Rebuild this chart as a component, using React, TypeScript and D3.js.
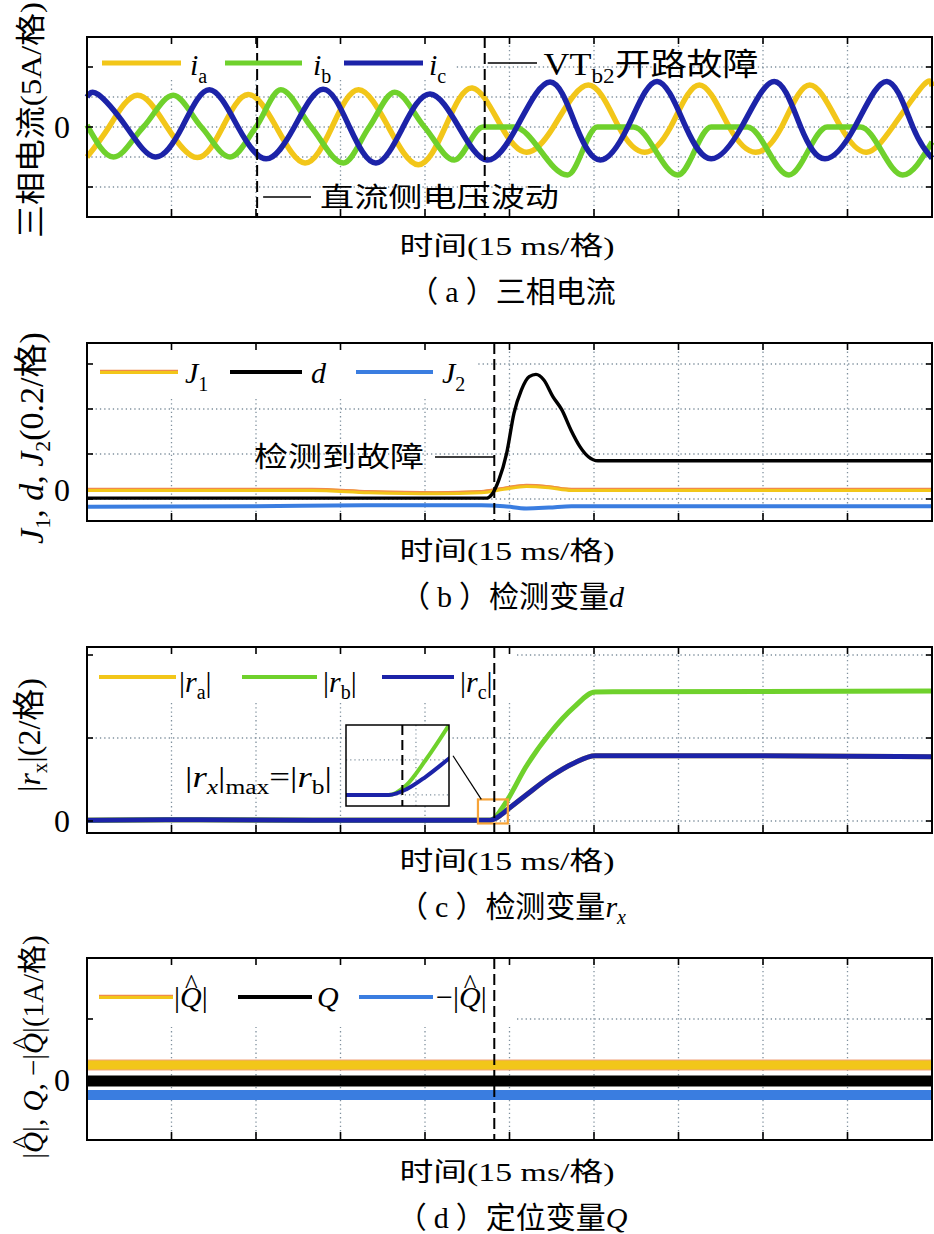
import React from "react";
import * as d3 from "d3";

type P = [number, number];

// ---------- shared time axis (ms, 15 ms per division) ----------
const timeTicks = [0, 15, 30, 45, 60, 75, 90, 105, 120, 135, 150];

// ---------- (a) three-phase currents, A ----------
const iaData: P[] = [
  [0, -5.0], [3.9, 0], [8.9, 5.3], [14.2, 0], [19.6, -5.1], [24.1, 0], [28.6, 5.4], [33.6, 0],
  [38.7, -6.0], [43.5, 0], [48.2, 6.2], [53.5, 0], [58.8, -6.3], [63.6, 0], [68.4, 6.5], [73.6, 0],
  [78.0, -4.2], [82.8, 0], [89.0, 7.0], [94.4, 0], [99.0, -4.2], [103.6, 0], [108.7, 7.0], [114.0, 0],
  [118.7, -4.2], [123.3, 0], [128.3, 7.0], [133.8, 0], [138.4, -4.2], [143.0, 0], [148.5, 7.0], [150, 6.8],
];
const ibData: P[] = [
  [0, 0.3], [4.7, -5.0], [10.0, 0], [15.3, 5.3], [20.3, 0], [25.4, -5.0], [30.0, 0], [34.4, 6.2],
  [39.8, 0], [45.5, -6.0], [50.1, 0], [54.6, 5.8], [59.9, 0], [65.2, -5.5], [70.3, 0], [75.8, 0],
  [85.3, -8.0], [90.6, 0], [97.0, 0], [104.9, -8.0], [110.8, 0], [117.2, 0], [124.6, -8.0],
  [131.4, 0], [137.3, 0], [144.8, -8.0], [150, -2.5],
];
const icData: P[] = [
  [0, 5.0], [2.0, 5.4], [7.0, 0], [12.1, -5.0], [16.9, 0], [21.7, 6.2], [26.8, 0], [31.8, -5.3],
  [36.8, 0], [41.9, 6.3], [46.6, 0], [51.3, -6.0], [56.1, 0], [60.9, 5.5], [66.0, 0], [71.0, -5.5],
  [76.3, 0], [82.2, 7.5], [86.9, 0], [91.1, -5.5], [96.0, 0], [101.2, 7.6], [106.3, 0], [110.8, -5.3],
  [116.2, 0], [122.0, 7.6], [126.7, 0], [131.0, -5.3], [136.3, 0], [142.0, 7.6], [146.6, 0], [150, -5.2],
];
const aGrid = [-10, -5, 0, 5, 10];
const aTicks = [-10, 0, 10];
const aEvents = [30.2, 70.6]; // DC-voltage fluctuation, VT_b2 open fault

// ---------- (b) detection variable d ----------
const j1Data: P[] = [
  [0, 0], [40, 0], [50, -0.01], [62, -0.015], [70, -0.01], [74, 0.005], [78, 0.018], [82, 0.012], [86, 0], [150, 0],
];
const dData: P[] = [
  [0, -0.036], [71.0, -0.036], [71.8, -0.022], [73.1, 0.044], [74.5, 0.164], [75.8, 0.342], [77.1, 0.444],
  [78.5, 0.504], [79.7, 0.514], [81.1, 0.489], [82.7, 0.415], [84.3, 0.356], [85.9, 0.267], [87.5, 0.193],
  [89.0, 0.148], [90.7, 0.13], [150, 0.13],
];
const j2Data: P[] = [
  [0, -0.074], [30, -0.072], [50, -0.068], [70, -0.068], [74, -0.072], [78, -0.082], [82, -0.078], [86, -0.072], [150, -0.072],
];
const bGrid = [-0.04, 0.16, 0.36, 0.56];
const detectT = 72.3;

// ---------- (c) detection variable r_x ----------
const rbData: P[] = [
  [0, 0.02], [20, 0.03], [40, 0.02], [60, 0.02], [71.6, 0.02], [72.5, 0.09], [73.5, 0.27], [74.7, 0.52],
  [77.9, 1.3], [82.2, 2.12], [86.5, 2.75], [90.2, 3.11], [120, 3.12], [150, 3.13],
];
const rcData: P[] = [
  [0, 0.02], [20, 0.03], [40, 0.02], [60, 0.02], [71.6, 0.02], [72.5, 0.06], [73.5, 0.15], [74.7, 0.28],
  [77.9, 0.62], [82.2, 1.06], [86.5, 1.4], [90.2, 1.57], [120, 1.57], [150, 1.55],
];
const raData: P[] = rcData;
const cGrid = [0, 2, 4];
const insetT = [69.4, 74.7];
const insetV = [-0.059, 0.52];
const insetGridT = [73];
const insetGridV = [0.02, 0.27];

// ---------- (d) location variable Q ----------
const qHatData: P[] = [[0, 0.246], [150, 0.246]];
const qData: P[] = [[0, -0.016], [150, -0.016]];
const negQHatData: P[] = [[0, -0.246], [150, -0.246]];
const dGridV = [0, 1];

// ---------- layout ----------
const X0 = 87, X1 = 932;
const xS = d3.scaleLinear().domain([0, 150]).range([X0, X1]);
const PA = { top: 37, bottom: 217, dom: [-15, 15] };
const PB = { top: 343, bottom: 521, dom: [-0.1378, 0.6533] };
const PC = { top: 647, bottom: 833, dom: [-0.289, 4.193] };
const PD = { top: 958, bottom: 1140, dom: [-0.984, 2.0] };
const yOf = (p: { top: number; bottom: number; dom: number[] }) =>
  d3.scaleLinear().domain(p.dom).range([p.bottom, p.top]);
const yA = yOf(PA), yB = yOf(PB), yC = yOf(PC), yD = yOf(PD);

const SERIF = "'Liberation Serif','Times New Roman',Times,'Noto Sans CJK SC',serif";
const GRID_C = "#7f909d";
const YEL = "#f2c619";
const GRN = "#6fd12c";
const NAVY = "#1c23a8";
const BLUE = "#3a7de0";
const ORNG = "#f08a4a";

const mk = (ys: d3.ScaleLinear<number, number>, curve: d3.CurveFactory) =>
  d3.line<P>().x((d) => xS(d[0])).y((d) => ys(d[1])).curve(curve);

function Grid({ p, ys, grid, legend }: any) {
  return (
    <g>
      {timeTicks.slice(1, -1).map((t) => (
        <line key={"v" + t} x1={xS(t)} x2={xS(t)} y1={p.top} y2={p.bottom} stroke={GRID_C} strokeWidth={1.3} strokeDasharray="1.3 3" />
      ))}
      {grid.map((v: number) => (
        <line key={"h" + v} x1={X0} x2={X1} y1={ys(v)} y2={ys(v)} stroke={GRID_C} strokeWidth={1.3} strokeDasharray="1.3 3" />
      ))}
      {legend && <rect x={X0 + 1} y={p.top + 1} width={legend[0] - X0 - 1} height={legend[1] - p.top - 1} fill="#fff" />}
    </g>
  );
}

function Border({ p, ys, ticks }: any) {
  return (
    <g stroke="#000" strokeWidth={1.6}>
      {timeTicks.slice(1, -1).map((t) => (
        <g key={t}>
          <line x1={xS(t)} x2={xS(t)} y1={p.bottom} y2={p.bottom - 8} />
          <line x1={xS(t)} x2={xS(t)} y1={p.top} y2={p.top + 7} />
        </g>
      ))}
      {ticks.map((v: number) => (
        <g key={v}>
          <line x1={X0} x2={X0 + 6} y1={ys(v)} y2={ys(v)} />
          <line x1={X1 - 6} x2={X1} y1={ys(v)} y2={ys(v)} />
        </g>
      ))}
      <rect x={X0} y={p.top} width={X1 - X0} height={p.bottom - p.top} fill="none" strokeWidth={2} />
    </g>
  );
}

function Zero({ ys }: any) {
  return (
    <text x={70} y={ys(0)} textAnchor="end" dominantBaseline="central" fontSize={32} fontFamily={SERIF}>0</text>
  );
}

function Dashed({ t, p }: any) {
  return <line x1={xS(t)} x2={xS(t)} y1={p.top} y2={p.bottom} stroke="#000" strokeWidth={2} strokeDasharray="11 5" />;
}

function LegLine({ x1, x2, y, c, w = 4.5, fringe }: any) {
  return (
    <g>
      <line x1={x1} x2={x2} y1={y} y2={y} stroke={c} strokeWidth={w} />
      {fringe && <line x1={x1} x2={x2} y1={y - 1.6} y2={y - 1.6} stroke={fringe} strokeWidth={1.1} />}
    </g>
  );
}

function XLabels({ base, tag, title }: any) {
  return (
    <g fontFamily={SERIF}>
      <text x={399.5} y={base} fontSize={26} textLength={215} lengthAdjust="spacingAndGlyphs">时间(15 ms/格)</text>
      <text x={512} y={base + 47} fontSize={30} textAnchor="middle">
        （<tspan dx={7}>{tag}</tspan><tspan dx={7}>）</tspan>{title}
      </text>
    </g>
  );
}

// italic Q with a circumflex accent, followed by `after`
function qHat(fs: number, after: string) {
  const hs = 0.9 * fs;
  return [
    <tspan key="q" fontStyle="italic">Q</tspan>,
    <tspan key="h" fontStyle="normal" fontSize={hs} dx={-0.56 * fs} dy={-0.46 * fs}>^</tspan>,
    <tspan key="a" fontStyle="normal" fontSize={fs} dx={0.14 * fs} dy={0.46 * fs}>{after}</tspan>,
  ];
}

export default function App() {
  const lA = (d: P[]) => mk(yA, d3.curveNatural)(d) as string;
  const lAm = (d: P[]) => mk(yA, d3.curveMonotoneX)(d) as string;
  const lB = (d: P[]) => mk(yB, d3.curveMonotoneX)(d) as string;
  const lC = (d: P[]) => mk(yC, d3.curveMonotoneX)(d) as string;
  const lD = (d: P[]) => mk(yD, d3.curveLinear)(d) as string;

  const xi = d3.scaleLinear().domain(insetT).range([346, 449]);
  const yi = d3.scaleLinear().domain(insetV).range([806, 725]);
  const lI = d3.line<P>().x((d) => xi(d[0])).y((d) => yi(d[1])).curve(d3.curveMonotoneX);

  return (
    <svg width={934} height={1234} style={{ position: "absolute", left: 0, top: 0, background: "#fff" }} fontFamily={SERIF}>
      <defs>
        <clipPath id="insetClip"><rect x={346} y={725} width={103} height={81} /></clipPath>
      </defs>

      {/* ================= (a) ================= */}
      <Grid p={PA} ys={yA} grid={aGrid} legend={[456, 80]} />
      <path d={lA(iaData)} fill="none" stroke={YEL} strokeWidth={5.5} />
      <path d={lAm(ibData)} fill="none" stroke={GRN} strokeWidth={5.5} />
      <path d={lA(icData)} fill="none" stroke={NAVY} strokeWidth={5.5} />
      {aEvents.map((t) => <Dashed key={t} t={t} p={PA} />)}
      <Border p={PA} ys={yA} ticks={aTicks} />
      <Zero ys={yA} />
      <LegLine x1={102} x2={181} y={63} c={YEL} w={5} />
      <LegLine x1={225} x2={302} y={63} c={GRN} w={5} />
      <LegLine x1={344} x2={423} y={63} c={NAVY} w={5} />
      <text x={190} y={75} fontSize={30} fontStyle="italic">i<tspan fontSize={20} fontStyle="normal" dy={8}>a</tspan></text>
      <text x={313} y={75} fontSize={30} fontStyle="italic">i<tspan fontSize={20} fontStyle="normal" dy={8}>b</tspan></text>
      <text x={429} y={75} fontSize={30} fontStyle="italic">i<tspan fontSize={20} fontStyle="normal" dy={8}>c</tspan></text>
      <line x1={xS(aEvents[1]) + 3} x2={537} y1={63} y2={63} stroke="#000" strokeWidth={1.5} />
      <text x={543.5} y={75} fontSize={31} textLength={215} lengthAdjust="spacingAndGlyphs">VT<tspan fontSize={20} dy={8}>b2</tspan><tspan dy={-8}>开路故障</tspan></text>
      <line x1={xS(aEvents[0]) + 6} x2={311} y1={197} y2={197} stroke="#000" strokeWidth={1.5} />
      <text x={320} y={206.5} fontSize={27} textLength={239} lengthAdjust="spacingAndGlyphs">直流侧电压波动</text>
      <text transform="translate(41,120) rotate(-90)" textAnchor="middle" fontSize={30} textLength={236} lengthAdjust="spacingAndGlyphs">三相电流(5A/格)</text>
      <XLabels base={255} tag="a" title="三相电流" />

      {/* ================= (b) ================= */}
      <Grid p={PB} ys={yB} grid={bGrid} legend={[478, 398]} />
      <path d={lB(j2Data)} fill="none" stroke={BLUE} strokeWidth={4} />
      <path d={lB(j1Data)} fill="none" stroke={YEL} strokeWidth={4} />
      <path d={lB(j1Data)} fill="none" stroke={ORNG} strokeWidth={1.1} transform="translate(0,-1.6)" />
      <path d={lB(dData)} fill="none" stroke="#000" strokeWidth={3.4} />
      <Dashed t={detectT} p={PB} />
      <Border p={PB} ys={yB} ticks={bGrid} />
      <Zero ys={yB} />
      <LegLine x1={100} x2={178} y={372} c={YEL} w={4} fringe={ORNG} />
      <LegLine x1={230} x2={302} y={372} c="#000" w={4} />
      <LegLine x1={356} x2={433} y={372} c={BLUE} w={4} />
      <text x={185} y={383} fontSize={30} fontStyle="italic">J<tspan fontSize={20} fontStyle="normal" dy={8}>1</tspan></text>
      <text x={311} y={383} fontSize={30} fontStyle="italic">d</text>
      <text x={442} y={383} fontSize={30} fontStyle="italic">J<tspan fontSize={20} fontStyle="normal" dy={8}>2</tspan></text>
      <text x={254} y={467} fontSize={28} textLength={170} lengthAdjust="spacingAndGlyphs">检测到故障</text>
      <line x1={435} x2={xS(detectT)} y1={457} y2={457} stroke="#000" strokeWidth={1.5} />
      <text transform="translate(43,438) rotate(-90)" textAnchor="middle" fontSize={34}>
        <tspan fontStyle="italic">J</tspan><tspan fontSize={22} dy={7}>1</tspan><tspan dy={-7}>, </tspan>
        <tspan fontStyle="italic">d</tspan><tspan>, </tspan>
        <tspan fontStyle="italic">J</tspan><tspan fontSize={22} dy={7}>2</tspan><tspan dy={-7}>(0.2/格)</tspan>
      </text>
      <XLabels base={560} tag="b" title={<>检测变量<tspan fontStyle="italic">d</tspan></>} />

      {/* ================= (c) ================= */}
      <Grid p={PC} ys={yC} grid={cGrid} legend={[514, 700]} />
      <path d={lC(raData)} fill="none" stroke={YEL} strokeWidth={5} />
      <path d={lC(rbData)} fill="none" stroke={GRN} strokeWidth={5} />
      <path d={lC(rcData)} fill="none" stroke={NAVY} strokeWidth={5} />
      <rect x={xS(insetT[0])} y={yC(insetV[1])} width={xS(insetT[1]) - xS(insetT[0])}
        height={yC(insetV[0]) - yC(insetV[1])} fill="none" stroke="#f6a338" strokeWidth={2.2} />
      <Dashed t={detectT} p={PC} />
      <Border p={PC} ys={yC} ticks={cGrid} />
      <Zero ys={yC} />
      {/* inset */}
      <g>
        <rect x={346} y={725} width={103} height={81} fill="#fff" />
        {insetGridT.map((t) => <line key={t} x1={xi(t)} x2={xi(t)} y1={725} y2={806} stroke={GRID_C} strokeWidth={1.2} strokeDasharray="1.2 3" />)}
        {insetGridV.map((v) => <line key={v} x1={346} x2={449} y1={yi(v)} y2={yi(v)} stroke={GRID_C} strokeWidth={1.2} strokeDasharray="1.2 3" />)}
        <g clipPath="url(#insetClip)">
          <path d={lI(rbData) as string} fill="none" stroke={GRN} strokeWidth={4} />
          <path d={lI(rcData) as string} fill="none" stroke={NAVY} strokeWidth={4} />
        </g>
        <line x1={xi(detectT)} x2={xi(detectT)} y1={725} y2={806} stroke="#000" strokeWidth={2} strokeDasharray="10 5" />
        <rect x={346} y={725} width={103} height={81} fill="none" stroke="#000" strokeWidth={1.5} />
        <line x1={xi(insetT[1]) + 4} y1={yi(0.3)} x2={xS(70.0)} y2={yC(insetV[1])} stroke="#000" strokeWidth={1.2} />
      </g>
      <LegLine x1={99} x2={176} y={677} c={YEL} w={4} />
      <LegLine x1={242} x2={317} y={677} c={GRN} w={4} />
      <LegLine x1={382} x2={454} y={677} c={NAVY} w={4} />
      <text x={179} y={692} fontSize={30}>|<tspan fontStyle="italic">r</tspan><tspan fontSize={20} dy={7}>a</tspan><tspan dy={-7}>|</tspan></text>
      <text x={323} y={692} fontSize={30}>|<tspan fontStyle="italic">r</tspan><tspan fontSize={20} dy={7}>b</tspan><tspan dy={-7}>|</tspan></text>
      <text x={460} y={692} fontSize={30}>|<tspan fontStyle="italic">r</tspan><tspan fontSize={20} dy={7}>c</tspan><tspan dy={-7}>|</tspan></text>
      <text x={185} y={787} fontSize={29} textLength={147} lengthAdjust="spacingAndGlyphs">
        |<tspan fontStyle="italic">r</tspan><tspan fontSize={20} fontStyle="italic" dy={7}>x</tspan><tspan dy={-7}>|</tspan>
        <tspan fontSize={20} dy={7}>max</tspan><tspan dy={-7}>=|</tspan><tspan fontStyle="italic">r</tspan>
        <tspan fontSize={20} dy={7}>b</tspan><tspan dy={-7}>|</tspan>
      </text>
      <text transform="translate(40,735) rotate(-90)" textAnchor="middle" fontSize={32}>
        |<tspan fontStyle="italic">r</tspan><tspan fontSize={21} dy={7}>x</tspan><tspan dy={-7}>|(2/格)</tspan>
      </text>
      <XLabels base={870} tag="c" title={<>检测变量<tspan fontStyle="italic">r</tspan><tspan fontSize={20} fontStyle="italic" dy={7}>x</tspan></>} />

      {/* ================= (d) ================= */}
      <Grid p={PD} ys={yD} grid={dGridV} legend={[514, 1027]} />
      <path d={lD(qHatData)} fill="none" stroke="#f1a27a" strokeWidth={11} />
      <path d={lD(qHatData)} fill="none" stroke={YEL} strokeWidth={9} />
      <path d={lD(qData)} fill="none" stroke="#000" strokeWidth={11} />
      <path d={lD(negQHatData)} fill="none" stroke={BLUE} strokeWidth={10} />
      <Dashed t={detectT} p={PD} />
      <Border p={PD} ys={yD} ticks={dGridV} />
      <Zero ys={yD} />
      <LegLine x1={99} x2={173} y={997} c={YEL} w={4} fringe={ORNG} />
      <LegLine x1={238} x2={312} y={997} c="#000" w={4} />
      <LegLine x1={359} x2={433} y={997} c={BLUE} w={4} />
      <text x={174} y={1007} fontSize={30}>|{qHat(30, "|")}</text>
      <text x={317} y={1007} fontSize={30} fontStyle="italic">Q</text>
      <text x={436} y={1007} fontSize={30}>−|{qHat(30, "|")}</text>
      <text transform="translate(43,1047) rotate(-90)" textAnchor="middle" fontSize={29}>
        |{qHat(29, "|, ")}<tspan fontStyle="italic">Q</tspan>, −|{qHat(29, "|(1A/格)")}
      </text>
      <XLabels base={1181} tag="d" title={<>定位变量<tspan fontStyle="italic">Q</tspan></>} />
    </svg>
  );
}
